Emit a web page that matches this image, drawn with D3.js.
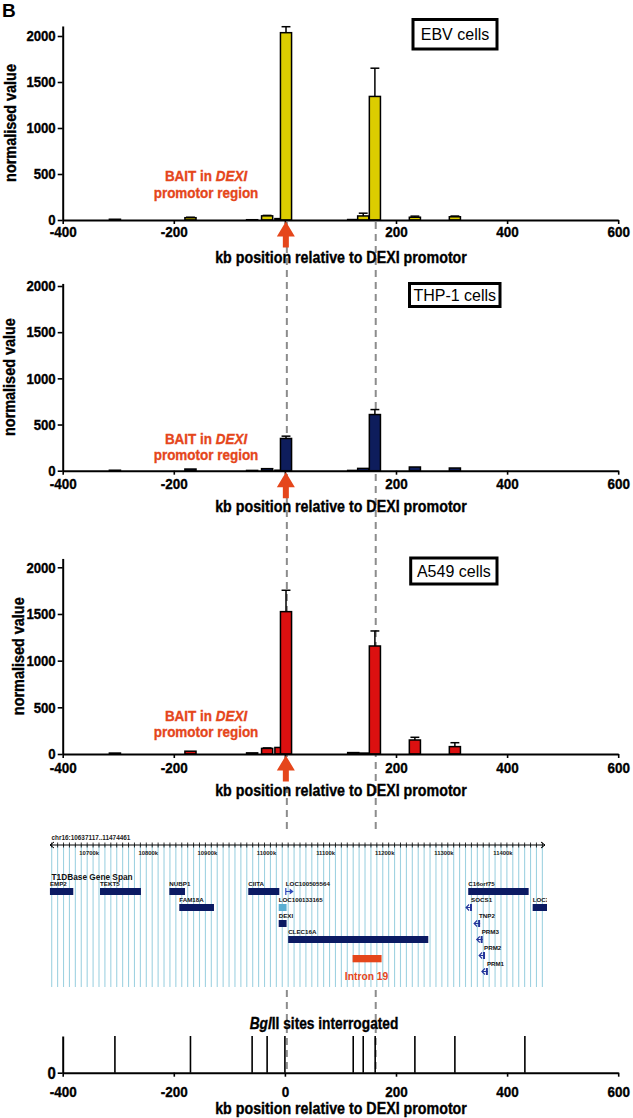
<!DOCTYPE html>
<html><head><meta charset="utf-8">
<script src="https://cdn.jsdelivr.net/npm/d3@7"></script>
<style>
html,body{margin:0;padding:0;background:#fff;}
svg{display:block;}
</style></head><body>
<svg id="chart" width="633" height="1118"></svg>
<script>
// ---------------- DATA ----------------
const cellLines = ["EBV cells", "THP-1 cells", "A549 cells"];
const fragmentPositions = [-306, -170, -59, -32, -8, 2, 123, 141, 162, 234, 306]; // kb
const ebvValues  = [8, 25, 3, 45, 15, 2036, 5, 44, 1343, 30, 35];
const ebvErrors  = [0, 5, 0, 5, 0, 65, 0, 30, 307, 12, 8];
const thp1Values = [5, 18, 3, 22, 5, 349, 3, 25, 608, 40, 29];
const thp1Errors = [0, 0, 0, 0, 0, 25, 0, 0, 54, 0, 0];
const a549Values = [10, 30, 12, 60, 70, 1525, 15, 10, 1157, 150, 79];
const a549Errors = [0, 0, 0, 5, 0, 229, 0, 0, 161, 29, 42];
const xTicks = [-400, -200, 0, 200, 400, 600];
const yTicks = [0, 500, 1000, 1500, 2000];
const bglSites = [-306, -170, -59, -32, 0, 123, 141, 162.5, 234, 306, 432]; // kb
const guideLines = [3.5, 163.5]; // kb
const xTitle = "kb position relative to DEXI promotor";
const yTitle = "normalised value";

// gene track (kb on chr16)
const regionLabel = "chr16:10637117..11474461";
const regionStart = 10637.117, regionEnd = 11474.461;
const geneNames  = ["EMP2","TEKT5","NUBP1","FAM18A","CIITA","LOC100505564","LOC100133165","DEXI","CLEC16A","C16orf75","LOC3","SOCS1","TNP2","PRM3","PRM2","PRM1"];
const geneStarts = [10637, 10721.7, 10839, 10855.8, 10972.5, 11036, 11024, 11024, 11040, 11344.6, 11453.6, 11341, 11354.5, 11359, 11363, 11367.7];
const geneEnds   = [10676.5, 10791, 10865.5, 10914.5, 11025, 11047.6, 11037.3, 11037.3, 11277, 11446.8, 11480, 11351, 11364.7, 11369, 11373, 11377.8];
const geneRows   = [0, 0, 0, 1, 0, 0, 1, 2, 3, 0, 1, 1, 2, 3, 4, 5];
const geneKinds  = ["box","box","box","box","box","arrowR","light","box","box","box","box","arrowL","arrowL","arrowL","arrowL","arrowL"];
const intronLabel = "Intron 19";
const intronStart = 11149, intronEnd = 11198;

// ---------------- LAYOUT ----------------
const svg = d3.select("#chart");
const W = 633, H = 1118;
svg.append("rect").attr("width", W).attr("height", H).attr("fill", "#fff");

const font = "'Liberation Sans',Arial,Helvetica,sans-serif";
const SX = 0.88; // horizontal condensing factor
const orange = "#e5461b";

function ntext(parent, xx, yy, size, anchor, rot, col) {
  const c = col || "#000";
  return parent.append("text")
    .attr("transform", `translate(${xx},${yy})${rot ? " rotate(-90)" : ""} scale(${SX},1)`)
    .attr("text-anchor", anchor).attr("font-family", font).attr("font-weight", "bold")
    .attr("font-size", size).attr("fill", c).attr("stroke", c).attr("stroke-width", 0.35);
}

const x = d3.scaleLinear().domain([-400, 600]).range([62.7, 618.2]);

const panels = [
  {name: cellLines[0], values: ebvValues, errors: ebvErrors, color: "#dccd00", base: 220, k: 0.092, yMax: 2109,
   box: {x: 413, y: 19.5, w: 84, h: 29.5}, bait: [181, 198], ylabX: 9.5, tickOff: 10.8, titleOff: 36.7},
  {name: cellLines[1], values: thp1Values, errors: thp1Errors, color: "#0e1d5c", base: 470.7, k: 0.09235, yMax: 2028,
   box: {x: 409.5, y: 283.5, w: 90.5, h: 23}, bait: [444, 460], ylabX: 9, tickOff: 12.7, titleOff: 35.3},
  {name: cellLines[2], values: a549Values, errors: a549Errors, color: "#dc1010", base: 754, k: 0.09335, yMax: 2095,
   box: {x: 410.7, y: 558, w: 86.3, h: 26}, bait: [721, 737], ylabX: 18, tickOff: 12.7, titleOff: 36}
];

const bottomBase = 1072.7, bottomTop = 1036;

// guide dashed lines (behind everything)
const gl = svg.append("g");
guideLines.forEach(p => {
  gl.append("line").attr("x1", x(p)).attr("x2", x(p))
    .attr("y1", panels[0].base + 2).attr("y2", bottomBase)
    .attr("stroke", "#8c8c8c").attr("stroke-width", 2).attr("stroke-dasharray", "7,5");
});

// "B"
svg.append("text").attr("x", 2).attr("y", 17).text("B")
  .attr("font-family", font).attr("font-weight", "bold").attr("font-size", 19);

function styleAxis(g, fs, left) {
  g.select(".domain").attr("stroke", "#000").attr("stroke-width", 2);
  g.selectAll(".tick line").attr("stroke", "#000").attr("stroke-width", 1.6);
  const t = g.selectAll(".tick text").attr("font-family", font).attr("font-weight", "bold")
    .attr("font-size", fs).attr("fill", "#000").attr("stroke", "#000").attr("stroke-width", 0.35)
    .attr("transform", `scale(${SX},1)`);
  if (left) t.attr("x", function() { return +d3.select(this).attr("x") / SX; });
}

panels.forEach(P => {
  const y = d3.scaleLinear().domain([0, P.yMax]).range([P.base, P.base - P.yMax * P.k]);
  const g = svg.append("g");
  const halfW = 10, capHalf = 8;

  // bars
  fragmentPositions.forEach((pos, i) => {
    const v = P.values[i], e = P.errors[i];
    if (e > 0) {
      g.append("line").attr("x1", x(pos)).attr("x2", x(pos))
        .attr("y1", y(v)).attr("y2", y(v + e)).attr("stroke", "#000").attr("stroke-width", 1.5);
      g.append("line").attr("x1", x(pos - capHalf)).attr("x2", x(pos + capHalf))
        .attr("y1", y(v + e)).attr("y2", y(v + e)).attr("stroke", "#000").attr("stroke-width", 1.5);
    }
    g.append("rect").attr("x", x(pos - halfW)).attr("width", x(pos + halfW) - x(pos - halfW))
      .attr("y", y(v)).attr("height", Math.max(0, P.base - y(v)))
      .attr("fill", P.color).attr("stroke", "#000").attr("stroke-width", 1.5);
  });

  // axes
  const ax = g.append("g").attr("transform", `translate(0,${P.base})`)
    .call(d3.axisBottom(x).tickValues(xTicks).tickSize(4).tickSizeOuter(0)
      .tickPadding(P.tickOff - 9).tickFormat(d => d === 0 ? "" : String(d)));
  styleAxis(ax, 15.3, false);
  const ay = g.append("g").attr("transform", `translate(${x(-400)},0)`)
    .call(d3.axisLeft(y).tickValues(yTicks).tickSize(5).tickSizeOuter(0).tickPadding(2).tickFormat(d => String(d)));
  styleAxis(ay, 15, true);

  // titles
  ntext(g, 341, P.base + P.titleOff + 6, 16.2, "middle").text(xTitle);
  const ymid = (P.base + (P.base - P.yMax * P.k)) / 2;
  ntext(g, P.ylabX + 6, ymid, 16.4, "middle", true).text(yTitle);

  // legend box
  g.append("rect").attr("x", P.box.x).attr("y", P.box.y).attr("width", P.box.w).attr("height", P.box.h)
    .attr("fill", "#fff").attr("stroke", "#000").attr("stroke-width", 3);
  g.append("text").attr("x", P.box.x + P.box.w / 2).attr("y", P.box.y + P.box.h / 2 + 5.8)
    .attr("text-anchor", "middle").attr("font-family", font).attr("font-size", 16).text(P.name);

  // bait annotation
  const t1 = ntext(g, 206, P.bait[0], 15.3, "middle", false, orange);
  t1.append("tspan").text("BAIT in ");
  t1.append("tspan").attr("font-style", "italic").text("DEXI");
  ntext(g, 206, P.bait[1], 15.3, "middle", false, orange).text("promotor region");

  // red arrow
  const cx = x(guideLines[0]) - 1, tip = P.base + 1.5;
  g.append("path").attr("d", `M${cx},${tip} L${cx + 9},${tip + 15} L${cx + 3},${tip + 15} L${cx + 3},${tip + 26} L${cx - 3},${tip + 26} L${cx - 3},${tip + 15} L${cx - 9},${tip + 15} Z`)
    .attr("fill", orange);
});

// ---------------- GENE TRACK ----------------
const gx = d3.scaleLinear().domain([regionStart, regionEnd]).range([50, 545]);
const tr = svg.append("g");
tr.append("defs").append("clipPath").attr("id", "trackClip")
  .append("rect").attr("x", 46).attr("y", 830).attr("width", 501).attr("height", 160);
tr.append("rect").attr("x", 46).attr("y", 834).attr("width", 503).attr("height", 154).attr("fill", "#fff");
const tc = tr.append("g").attr("clip-path", "url(#trackClip)");
const gridTicks = d3.range(10640, regionEnd, 10);
tc.selectAll("line.grid").data(gridTicks).enter().append("line")
  .attr("x1", d => gx(d)).attr("x2", d => gx(d)).attr("y1", 845).attr("y2", 987)
  .attr("stroke", "#9fd2e1").attr("stroke-width", 1.1);
// axis
tc.append("line").attr("x1", 50).attr("x2", 545).attr("y1", 845).attr("y2", 845).attr("stroke", "#000").attr("stroke-width", 1);
tc.selectAll("line.tk").data(gridTicks).enter().append("line")
  .attr("x1", d => gx(d)).attr("x2", d => gx(d)).attr("y1", 842.5).attr("y2", 847.5)
  .attr("stroke", "#000").attr("stroke-width", 0.8);
tc.append("path").attr("d", "M54,842 L50,845 L54,848 M541,842 L545,845 L541,848").attr("fill", "none").attr("stroke", "#000").attr("stroke-width", 1);
tc.selectAll("text.kl").data(d3.range(10700, 11401, 100)).enter().append("text")
  .attr("x", d => gx(d) + 2).attr("y", 854.5).attr("text-anchor", "middle")
  .attr("font-family", font).attr("font-weight", "bold").attr("font-size", 5.9).attr("fill", "#222").text(d => d + "k");
tc.append("text").attr("x", 51.5).attr("y", 839.5).attr("font-family", font).attr("font-weight", "bold").attr("font-size", 6.4)
  .attr("fill", "#222").text(regionLabel);
tc.append("text").attr("x", 51.5).attr("y", 879.5).attr("font-family", font).attr("font-weight", "bold")
  .attr("font-size", 8.3).attr("fill", "#111").text("T1DBase Gene Span");

const rowTop = r => 888 + r * 16;
geneNames.forEach((name, i) => {
  const x0 = gx(geneStarts[i]), x1 = gx(geneEnds[i]), top = rowTop(geneRows[i]), kind = geneKinds[i];
  const cy = top + 3.5;
  if (kind === "box" || kind === "light") {
    tc.append("rect").attr("x", x0).attr("y", top).attr("width", x1 - x0).attr("height", 7)
      .attr("fill", kind === "light" ? "#5aaed2" : "#0b1a63");
  } else if (kind === "arrowR") {
    tc.append("path").attr("d", `M${x0},${cy - 3.5} L${x0},${cy + 3.5} M${x0},${cy} L${x1 - 2},${cy}`)
      .attr("stroke", "#2d48b8").attr("stroke-width", 1.2).attr("fill", "none");
    tc.append("path").attr("d", `M${x1 - 3},${cy - 3} L${x1 + 1},${cy} L${x1 - 3},${cy + 3} Z`).attr("fill", "#2d48b8");
  } else {
    tc.append("path").attr("d", `M${x0 + 3},${cy - 3} L${x0},${cy} L${x0 + 3},${cy + 3} M${x0},${cy} L${x1},${cy}`)
      .attr("stroke", "#23349a").attr("stroke-width", 1.1).attr("fill", "none");
    tc.append("rect").attr("x", x1 - 2).attr("y", cy - 3.5).attr("width", 2).attr("height", 7).attr("fill", "#23349a");
  }
  const lx = kind === "arrowL" ? x0 + 5 : x0;
  tc.append("text").attr("x", lx).attr("y", top - 2.5).attr("font-family", font).attr("font-weight", "bold")
    .attr("font-size", 6.2).attr("fill", "#111").text(name);
});
tc.append("rect").attr("x", gx(intronStart)).attr("y", 955).attr("width", gx(intronEnd) - gx(intronStart))
  .attr("height", 7.3).attr("fill", orange);
tc.append("text").attr("x", (gx(intronStart) + gx(intronEnd)) / 2 - 0.5).attr("y", 979.5).attr("text-anchor", "middle")
  .attr("font-family", font).attr("font-weight", "bold").attr("font-size", 10.3).attr("fill", orange).text(intronLabel);

// ---------------- BglII SITES ----------------
const bg = svg.append("g");
const bt = ntext(bg, 324, 1028.5, 15.6, "middle");
bt.append("tspan").attr("font-style", "italic").text("Bgl");
bt.append("tspan").text("II sites interrogated");
bg.selectAll("line.site").data(bglSites).enter().append("line")
  .attr("x1", d => x(d)).attr("x2", d => x(d)).attr("y1", bottomTop).attr("y2", bottomBase)
  .attr("stroke", "#000").attr("stroke-width", 1.6);
const yb = d3.scaleLinear().domain([0, 1]).range([bottomBase, bottomTop]);
const bx = bg.append("g").attr("transform", `translate(0,${bottomBase})`)
  .call(d3.axisBottom(x).tickValues(xTicks).tickSize(4).tickSizeOuter(0).tickPadding(9).tickFormat(d => String(d)));
styleAxis(bx, 15.3, false);
const by = bg.append("g").attr("transform", `translate(${x(-400)},0)`)
  .call(d3.axisLeft(yb).tickValues([0]).tickSize(5).tickSizeOuter(0).tickPadding(2).tickFormat(d => String(d)));
styleAxis(by, 17, true);
ntext(bg, 341, bottomBase + 41.5, 16.2, "middle").text(xTitle);
</script>
</body></html>
